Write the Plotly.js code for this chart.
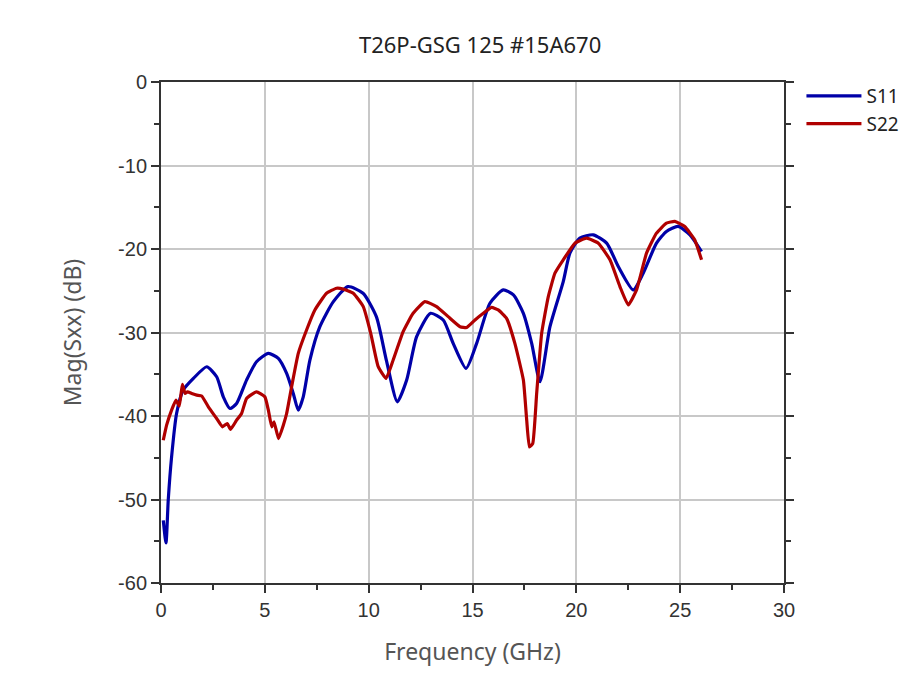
<!DOCTYPE html>
<html>
<head>
<meta charset="utf-8">
<script src="https://cdn.plot.ly/plotly-3.0.1.min.js"></script>
<style>
  html, body { margin: 0; padding: 0; background: #fff; }
  #chart { width: 911px; height: 699px; }
</style>
</head>
<body>
<div id="chart"></div>
<script>
// S-parameter magnitude readings (GHz, dB)
const s11Freq = [0.11, 0.24, 0.35, 0.51, 0.75, 1.07, 1.56, 2.2, 2.68, 3.0, 3.32, 3.64, 4.12, 4.6, 5.17,
  5.65, 6.05, 6.37, 6.61, 6.85, 7.17, 7.65, 8.3, 9.0, 9.73, 10.37, 10.85, 11.38, 11.83, 12.31,
  12.98, 13.59, 14.07, 14.69, 15.2, 15.84, 16.48, 16.97, 17.45, 17.85, 18.25, 18.73, 19.37,
  19.69, 20.17, 20.81, 21.46, 22.02, 22.74, 23.22, 23.86, 24.34, 24.9, 25.47, 26.03];
const s11Mag = [-52.5, -55.2, -50.0, -44.9, -39.7, -36.9, -35.5, -34.1, -35.3, -37.7, -39.1, -38.5, -35.7, -33.5, -32.5,
  -33.1, -34.9, -37.3, -39.3, -37.7, -33.3, -29.3, -26.3, -24.5, -25.3, -28.1, -33.3, -38.3, -35.7, -30.5,
  -27.7, -28.5, -31.3, -34.3, -31.3, -26.5, -24.9, -25.5, -27.7, -31.3, -35.9, -29.3, -23.9,
  -20.5, -18.7, -18.3, -19.3, -22.1, -24.9, -22.9, -19.3, -17.9, -17.3, -18.3, -20.3];

const s22Freq = [0.11, 0.27, 0.51, 0.72, 0.88, 1.03, 1.16, 1.28, 1.48, 1.72, 1.96, 2.28, 2.68, 2.96, 3.19,
  3.35, 3.64, 3.88, 4.12, 4.6, 5.0, 5.17, 5.33, 5.44, 5.66, 5.89, 6.05, 6.29, 6.61, 7.01,
  7.41, 7.97, 8.45, 8.78, 9.26, 9.74, 10.1, 10.46, 10.84, 11.18, 11.66, 12.14, 12.71, 13.27,
  13.83, 14.4, 14.72, 15.12, 15.52, 15.92, 16.24, 16.64, 17.04, 17.45, 17.61, 17.74, 17.9,
  18.09, 18.33, 18.65, 18.97, 19.37, 19.93, 20.49, 21.06, 21.62, 22.1, 22.5, 22.9, 23.38,
  23.86, 24.34, 24.74, 25.22, 25.7, 26.03];
const s22Mag = [-42.9, -41.1, -39.3, -38.1, -38.8, -36.2, -37.3, -37.1, -37.3, -37.5, -37.6, -38.9, -40.3, -41.3, -40.9,
  -41.6, -40.5, -39.7, -37.9, -37.1, -37.7, -39.3, -41.3, -40.7, -42.7, -41.1, -39.7, -36.5, -32.5, -29.7,
  -27.3, -25.3, -24.7, -24.8, -25.3, -26.9, -30.1, -34.1, -35.5, -33.3, -29.9, -27.7, -26.3, -26.9,
  -28.1, -29.3, -29.4, -28.5, -27.7, -27.0, -27.3, -28.3, -31.3, -35.7, -40.5, -43.7, -43.3,
  -37.3, -30.1, -25.7, -22.9, -21.3, -19.3, -18.7, -19.3, -21.3, -24.5, -26.7, -24.9, -20.5,
  -18.1, -16.9, -16.7, -17.3, -18.9, -21.3];

const xTicks = [0, 5, 10, 15, 20, 25, 30];
const yTicks = [0, -10, -20, -30, -40, -50, -60];

const AXIS_COLOR = '#333333';
const TICK_FONT = { family: 'Liberation Sans, Arial, sans-serif', size: 20, color: '#333333' };
const TITLE_FONT = { family: 'Noto Sans, sans-serif', size: 23, color: '#555555' };

const traces = [
  {
    x: s11Freq, y: s11Mag, name: 'S11',
    type: 'scatter', mode: 'lines',
    line: { color: '#0000a8', width: 3.2, shape: 'spline', smoothing: 0.6 },
  },
  {
    x: s22Freq, y: s22Mag, name: 'S22',
    type: 'scatter', mode: 'lines',
    line: { color: '#b00000', width: 3.2, shape: 'spline', smoothing: 0.4 },
  },
];

const layout = {
  width: 911, height: 699,
  margin: { l: 161, r: 127, t: 82, b: 116, autoexpand: false },
  paper_bgcolor: '#fff', plot_bgcolor: '#fff',
  title: {
    text: 'T26P-GSG 125 #15A670',
    font: { family: 'Noto Sans, sans-serif', size: 22, color: '#222' },
    x: 0.527, xanchor: 'center', y: 0.935, yanchor: 'middle',
  },
  showlegend: true,
  legend: {
    x: 1.028, y: 1.01, xanchor: 'left', yanchor: 'top',
    font: { family: 'Noto Sans, sans-serif', size: 19, color: '#222' },
    bgcolor: 'rgba(0,0,0,0)', tracegroupgap: 0, itemwidth: 55,
  },
  xaxis: {
    range: [0, 30], tickvals: xTicks, ticktext: xTicks.map(String),
    showline: true, linecolor: AXIS_COLOR, linewidth: 2, mirror: true,
    ticks: 'outside', ticklen: 8, tickwidth: 2, tickcolor: AXIS_COLOR,
    minor: { dtick: 2.5, ticks: 'outside', ticklen: 5, tickwidth: 2, tickcolor: AXIS_COLOR, showgrid: false },
    showgrid: true, gridcolor: '#c8c8c8', gridwidth: 2,
    zeroline: false, tickfont: TICK_FONT,
    title: { text: 'Frequency (GHz)', font: TITLE_FONT, standoff: 24 },
  },
  xaxis2: {
    overlaying: 'x', side: 'top', range: [0, 30], tickvals: xTicks,
    showticklabels: false, showgrid: false, zeroline: false,
    ticks: 'inside', ticklen: 8, tickwidth: 2, tickcolor: AXIS_COLOR,
    minor: { dtick: 2.5, ticks: 'inside', ticklen: 5, tickwidth: 2, tickcolor: AXIS_COLOR, showgrid: false },
  },
  yaxis: {
    range: [-60, 0], tickvals: yTicks, ticktext: yTicks.map(String),
    showline: true, linecolor: AXIS_COLOR, linewidth: 2, mirror: 'ticks',
    ticks: 'outside', ticklen: 8, tickwidth: 2, tickcolor: AXIS_COLOR,
    minor: { dtick: 5, ticks: 'outside', ticklen: 5, tickwidth: 2, tickcolor: AXIS_COLOR, showgrid: false },
    showgrid: true, gridcolor: '#c8c8c8', gridwidth: 2,
    zeroline: false, tickfont: TICK_FONT,
    title: { text: 'Mag(Sxx) (dB)', font: TITLE_FONT, standoff: 30 },
  },
};

Plotly.newPlot('chart', traces, layout, { displayModeBar: false, staticPlot: true });
</script>
</body>
</html>
